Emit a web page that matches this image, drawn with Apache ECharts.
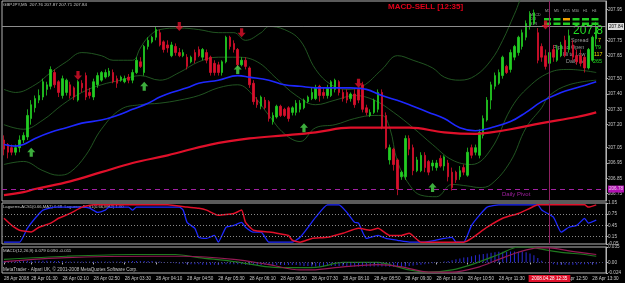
<!DOCTYPE html>
<html>
<head>
<meta charset="utf-8">
<script src="https://cdn.jsdelivr.net/npm/echarts@6.0.0/dist/echarts.min.js"></script>
<style>
  html, body { margin: 0; padding: 0; background: #000; }
  #chart { width: 625px; height: 283px; }
</style>
</head>
<body>
<div id="chart"></div>
<script>
// GBPJPY M5 bars, [open, close, low, high]
const candles = [
  [207.10,207.04,207.00,207.13],[207.07,207.02,206.98,207.08],[207.05,207.02,207.00,207.07],[207.02,207.05,207.00,207.07],
  [207.05,207.10,207.02,207.13],[207.10,207.13,207.08,207.15],[207.12,207.26,207.10,207.30],[207.24,207.33,207.20,207.36],
  [207.31,207.37,207.28,207.39],[207.36,207.39,207.34,207.43],[207.38,207.48,207.36,207.50],[207.43,207.46,207.39,207.48],
  [207.45,207.56,207.43,207.58],[207.54,207.46,207.44,207.56],[207.48,207.41,207.38,207.49],[207.39,207.50,207.37,207.52],
  [207.41,207.49,207.39,207.50],[207.46,207.39,207.37,207.48],[207.44,207.38,207.36,207.45],[207.36,207.48,207.35,207.49],
  [207.47,207.44,207.41,207.49],[207.52,207.38,207.36,207.54],[207.41,207.39,207.37,207.44],[207.38,207.48,207.36,207.50],
  [207.46,207.52,207.44,207.54],[207.49,207.54,207.48,207.55],[207.51,207.54,207.50,207.56],[207.52,207.55,207.51,207.57],
  [207.54,207.48,207.47,207.56],[207.50,207.47,207.44,207.52],[207.49,207.51,207.48,207.52],[207.48,207.50,207.47,207.52],
  [207.51,207.49,207.47,207.53],[207.49,207.54,207.47,207.56],[207.54,207.62,207.53,207.64],[207.61,207.58,207.57,207.64],
  [207.54,207.71,207.52,207.72],[207.71,207.75,207.69,207.77],[207.74,207.77,207.73,207.78],[207.77,207.82,207.75,207.84],
  [207.80,207.72,207.71,207.82],[207.74,207.69,207.67,207.75],[207.72,207.70,207.67,207.75],[207.65,207.72,207.64,207.74],
  [207.71,207.67,207.65,207.73],[207.67,207.65,207.64,207.70],[207.65,207.67,207.64,207.69],[207.64,207.58,207.56,207.66],
  [207.61,207.64,207.60,207.65],[207.67,207.62,207.60,207.69],[207.69,207.65,207.64,207.71],[207.64,207.69,207.62,207.70],
  [207.67,207.62,207.60,207.69],[207.64,207.54,207.52,207.65],[207.60,207.54,207.52,207.62],[207.59,207.54,207.52,207.61],
  [207.54,207.61,207.52,207.62],[207.61,207.77,207.60,207.78],[207.77,207.71,207.69,207.78],[207.73,207.69,207.67,207.75],
  [207.69,207.59,207.57,207.70],[207.59,207.62,207.58,207.64],[207.62,207.58,207.56,207.64],[207.57,207.46,207.44,207.58],
  [207.47,207.35,207.33,207.49],[207.36,207.33,207.31,207.38],[207.32,207.38,207.30,207.39],[207.36,207.31,207.30,207.38],
  [207.35,207.24,207.22,207.36],[207.22,207.26,207.20,207.28],[207.25,207.32,207.24,207.33],[207.32,207.26,207.25,207.33],
  [207.30,207.26,207.25,207.31],[207.31,207.24,207.22,207.32],[207.28,207.31,207.26,207.32],[207.28,207.34,207.26,207.36],
  [207.30,207.34,207.28,207.36],[207.31,207.36,207.30,207.37],[207.35,207.38,207.34,207.39],[207.37,207.41,207.36,207.44],
  [207.37,207.44,207.36,207.46],[207.45,207.39,207.35,207.46],[207.41,207.39,207.37,207.44],[207.39,207.44,207.37,207.46],
  [207.39,207.48,207.38,207.49],[207.43,207.49,207.41,207.50],[207.48,207.41,207.39,207.49],[207.41,207.37,207.35,207.43],
  [207.41,207.36,207.34,207.43],[207.37,207.40,207.35,207.41],[207.40,207.33,207.31,207.43],[207.43,207.36,207.34,207.44],
  [207.46,207.30,207.28,207.48],[207.31,207.28,207.26,207.33],[207.26,207.28,207.25,207.30],[207.28,207.36,207.27,207.37],
  [207.30,207.41,207.28,207.43],[207.41,207.18,207.17,207.43],[207.26,207.05,207.04,207.28],[206.97,207.05,206.94,207.07],
  [207.04,206.94,206.90,207.05],[206.97,206.78,206.74,206.98],[206.86,206.89,206.84,206.90],[206.86,207.11,206.84,207.13],
  [207.11,207.04,207.00,207.13],[207.05,206.90,206.87,207.07],[206.90,206.97,206.89,206.99],[206.90,207.00,206.89,207.02],
  [207.00,206.92,206.89,207.02],[206.96,206.89,206.87,206.97],[206.93,206.95,206.90,206.97],[206.92,206.95,206.90,206.97],
  [206.98,206.93,206.92,207.00],[206.93,206.99,206.90,207.00],[206.95,206.86,206.83,206.97],[206.89,206.79,206.77,206.92],
  [206.89,206.84,206.82,206.90],[206.86,206.90,206.84,206.93],[206.92,206.89,206.87,206.94],[206.87,207.02,206.86,207.05],
  [207.05,207.00,206.98,207.07],[207.02,207.05,207.00,207.07],[207.00,207.15,206.98,207.17],[207.13,207.24,207.11,207.26],
  [207.23,207.36,207.22,207.38],[207.36,207.46,207.30,207.48],[207.45,207.52,207.43,207.54],[207.47,207.54,207.46,207.56],
  [207.52,207.64,207.50,207.65],[207.58,207.54,207.53,207.59],[207.56,207.67,207.54,207.69],[207.64,207.71,207.62,207.72],
  [207.67,207.77,207.65,207.78],[207.71,207.80,207.69,207.82],[207.77,207.86,207.75,207.88],[207.84,207.92,207.82,207.94],
  [207.86,207.93,207.85,207.95],[207.80,207.62,207.60,207.83],[207.71,207.64,207.61,207.73],[207.65,207.58,207.56,207.69],
  [207.60,207.67,207.58,207.69],[207.69,207.64,207.61,207.72],[207.62,207.69,207.61,207.72],[207.65,207.72,207.64,207.74],
  [207.75,207.65,207.64,207.78],[207.69,207.78,207.67,207.82],[207.72,207.64,207.62,207.75],[207.65,207.61,207.59,207.69],
  [207.65,207.60,207.58,207.69],[207.64,207.57,207.54,207.65],[207.57,207.69,207.56,207.70],[207.62,207.77,207.61,207.78],
  [207.76,207.84,207.71,207.87]
];

// indicator lines, [bar index, value]
const blueMA = [[0,207.07],[3,207.06],[5,207.07],[8,207.11],[12,207.15],[16,207.18],[20,207.21],[25,207.23],[29,207.26],
  [33,207.30],[37,207.34],[40,207.38],[43,207.41],[47,207.44],[50,207.47],[55,207.49],[60,207.52],[63,207.51],[68,207.49],
  [72,207.46],[76,207.45],[80,207.44],[85,207.44],[89,207.44],[93,207.43],[97,207.39],[102,207.35],[105,207.32],[109,207.28],
  [113,207.24],[117,207.18],[121,207.16],[125,207.18],[130,207.22],[134,207.28],[138,207.35],[143,207.41],[147,207.44],[152,207.48]];
const redMA = [[0,206.74],[5,206.76],[8,206.78],[17,206.83],[25,206.89],[33,206.95],[42,207.00],[53,207.07],[63,207.11],
  [72,207.13],[80,207.15],[89,207.18],[97,207.18],[104,207.18],[113,207.15],[121,207.14],[125,207.15],[130,207.17],
  [138,207.21],[147,207.25],[152,207.28]];
const bandUpper = [[0,207.43],[3,207.41],[8,207.46],[12,207.54],[16,207.61],[20,207.67],[25,207.65],[28,207.62],[33,207.62],
  [35,207.70],[37,207.77],[40,207.82],[45,207.83],[50,207.82],[55,207.80],[59,207.80],[62,207.75],[66,207.80],[68,207.84],
  [72,207.82],[76,207.75],[80,207.56],[84,207.46],[88,207.43],[92,207.45],[97,207.56],[101,207.65],[105,207.62],[110,207.57],
  [113,207.51],[117,207.49],[121,207.52],[125,207.62],[128,207.75],[131,207.92],[134,208.08],[138,208.14],[145,208.08],[152,208.05]];
const bandMiddle = [[0,207.20],[5,207.17],[10,207.23],[15,207.33],[20,207.41],[25,207.46],[30,207.49],[35,207.52],[40,207.49],
  [45,207.54],[50,207.61],[55,207.64],[60,207.64],[65,207.61],[70,207.50],[75,207.39],[80,207.33],[85,207.36],[90,207.39],
  [95,207.36],[100,207.28],[105,207.18],[110,207.07],[115,206.97],[120,206.94],[125,207.04],[130,207.30],[134,207.43],
  [140,207.54],[145,207.56],[152,207.54]];
const bandLower = [[0,206.94],[5,206.96],[10,206.90],[14,206.87],[17,206.89],[21,207.00],[25,207.17],[30,207.30],[35,207.33],
  [40,207.34],[45,207.36],[50,207.39],[55,207.44],[60,207.46],[64,207.39],[68,207.26],[72,207.14],[76,207.09],[80,207.18],
  [85,207.20],[90,207.24],[95,207.26],[97,207.26],[99,207.18],[101,206.96],[104,206.81],[107,206.74],[111,206.73],[115,206.81],
  [119,206.80],[122,206.79],[125,206.81],[130,206.96],[134,207.18],[138,207.31],[140,207.39],[145,207.46],[152,207.49]];
const upArrows = [[7,207.02],[36,207.45],[60,207.56],[77,207.18],[110,206.79]];
const downArrows = [[19,207.52],[45,207.84],[61,207.80],[91,207.47],[139,207.85]];

const lagBlue = [[0,0],[4,0],[6,0.37],[8,0.64],[10,0.86],[13,0.94],[20,0.94],[22,0.91],[24,0.80],[26,0.86],[27,0.94],
  [32,0.94],[33,0.86],[34,0.94],[45,0.94],[46,0.86],[47,0.53],[49,0.37],[50,0.13],[52,0.10],[54,0.18],[55,0],[57,0.40],
  [59,0.45],[61,0.53],[62,0.40],[64,0.27],[66,0.27],[68,0],[74,0],[76,0.13],[79,0.53],[80,0.67],[83,1.0],[86,1.0],[88,0.80],
  [90,0.53],[91,0.51],[93,0.10],[96,0.18],[98,0.10],[101,0.05],[104,0],[108,0],[113,0.10],[115,0.13],[116,0],[118,0],
  [120,0.45],[122,0.72],[124,0.94],[127,1.0],[137,1.0],[138,0.86],[141,0.67],[143,0.27],[145,0.40],[147,0.45],[149,0.64],
  [150,0.51],[152,0.59]];
const lagRed = [[0,0.64],[2,0.45],[4,0.32],[7,0.27],[9,0.40],[12,0.51],[14,0.64],[17,0.77],[20,0.94],[23,1.0],[42,1.0],
  [47,0.94],[50,0.91],[52,0.86],[55,0.72],[59,0.77],[61,0.86],[62,0.53],[64,0.32],[68,0.27],[70,0.24],[73,0.18],[74,0.05],
  [76,0],[79,0.10],[83,0.13],[87,0.24],[91,0.37],[94,0.32],[96,0.37],[99,0.18],[102,0.18],[104,0.24],[107,0],[118,0],
  [120,0.10],[124,0.40],[128,0.64],[132,0.77],[135,0.91],[137,1.0],[149,1.0],[150,0.94],[152,1.0]];
const lagLevels = [0.75, 0.45, 0.15];

const macdHist = [
  0.002,0.002,0.003,0.003,0.003,0.004,0.004,0.004,0.004,0.004,
  0.004,0.004,0.003,0.003,0.003,0.003,0.002,0.002,0.002,0.002,
  0.002,0.002,0.002,0.002,0.002,0.002,0.002,0.002,0.002,0.002,
  0.002,0.002,0.003,0.003,0.003,0.003,0.003,0.003,0.003,0.002,
  0.002,0.001,0.001,0.001,-0.002,-0.003,-0.003,-0.004,-0.004,-0.004,
  -0.004,-0.005,-0.005,-0.005,-0.005,-0.005,-0.004,-0.004,-0.004,-0.004,
  -0.004,-0.004,-0.005,-0.005,-0.006,-0.006,-0.006,-0.006,-0.006,-0.006,
  -0.006,-0.006,-0.006,-0.006,-0.006,-0.006,-0.007,-0.008,-0.008,-0.009,
  -0.009,-0.009,-0.009,-0.008,-0.008,-0.008,-0.008,-0.008,-0.008,-0.009,
  -0.009,-0.009,-0.009,-0.009,-0.009,-0.009,-0.009,-0.009,-0.009,-0.010,
  -0.010,-0.010,-0.010,-0.009,-0.008,-0.007,-0.006,-0.005,-0.004,-0.003,
  -0.002,-0.001,0.001,0.002,0.003,0.005,0.007,0.009,0.011,0.012,
  0.014,0.016,0.018,0.019,0.020,0.022,0.023,0.024,0.024,0.024,
  0.025,0.025,0.024,0.024,0.023,0.020,0.016,0.010,0.004,-0.002,
  -0.004,-0.004,-0.005,-0.005,-0.005,-0.005,-0.005,-0.005,-0.004,-0.004,
  -0.004,-0.004,-0.004
];
const macdGreen = [[0,0.007],[16,0.014],[33,0.018],[44,0.018],[50,0.011],[59,0.002],[68,-0.010],[76,-0.012],[81,-0.010],
  [87,0.0],[96,0.0],[101,-0.010],[104,-0.017],[109,-0.022],[115,-0.017],[120,-0.005],[127,0.018],[132,0.035],[135,0.035],
  [138,0.030],[143,0.023],[149,0.018],[152,0.014]];
const macdMaroon = [[0,0.002],[16,0.011],[38,0.014],[46,0.014],[59,0.007],[68,-0.005],[76,-0.017],[79,-0.017],[87,-0.010],
  [96,-0.005],[102,-0.010],[109,-0.022],[115,-0.022],[122,-0.010],[127,0.007],[132,0.023],[137,0.033],[140,0.033],
  [145,0.026],[152,0.018]];

const mainTicks = [207.95, 207.75, 207.65, 207.50, 207.40, 207.30, 207.20, 207.05, 206.95, 206.85, 206.75];
const lagTicks = [1.05, 0.75, 0.45, 0.15, -0.05];
const macdTicks = [0.035, 0, -0.024];
const lastPrice = 207.84;
const dailyPivot = 206.78;
const crossTime = '12:35';

// 5 minute bars from 00:55, plus chart shift slots
const times = [];
for (let i = 0; i < 155; i++) {
  const m = 55 + i * 5;
  times.push(String(Math.floor(m / 60)).padStart(2, '0') + ':' + String(m % 60).padStart(2, '0'));
}

const FONT = 'Liberation Sans';
const TXT = '#c8c8c8';
const labelIdx = (i) => i === 0 || (i >= 7 && (i - 7) % 8 === 0);

const chart = echarts.init(document.getElementById('chart'));

const gridBase = { left: 2, right: 19, show: true, borderColor: '#b4b4b4', borderWidth: 1, backgroundColor: 'transparent' };
const hiddenX = (gi) => ({
  type: 'category', gridIndex: gi, data: times, boundaryGap: true,
  axisLine: { show: false }, axisTick: { show: false }, axisLabel: { show: false }, splitLine: { show: false }
});
const rightY = (gi, min, max, ticks, fmt) => ({
  type: 'value', gridIndex: gi, position: 'right', min: min, max: max, scale: true,
  axisLine: { show: true, lineStyle: { color: '#b4b4b4' } },
  axisTick: { show: true, length: 2, customValues: ticks, lineStyle: { color: '#b4b4b4' } },
  axisLabel: { customValues: ticks, formatter: fmt, color: TXT, fontSize: 4.6, fontFamily: FONT, margin: 2 },
  splitLine: { show: false }
});
const lineS = (name, data, xi, yi, color, width, smooth, z) => ({
  name: name, type: 'line', xAxisIndex: xi, yAxisIndex: yi, data: data, symbol: 'none', smooth: smooth,
  lineStyle: { color: color, width: width }, z: z, silent: true
});

const option = {
  backgroundColor: '#000000',
  animation: false,
  textStyle: { fontFamily: FONT },
  grid: [
    Object.assign({ top: 1, height: 200 }, gridBase),
    Object.assign({ top: 203, height: 41 }, gridBase),
    Object.assign({ top: 247, height: 26 }, gridBase)
  ],
  xAxis: [
    hiddenX(0),
    hiddenX(1),
    {
      type: 'category', gridIndex: 2, data: times, boundaryGap: true,
      axisLine: { show: false },
      axisTick: { show: true, interval: labelIdx, alignWithLabel: true, length: 2, lineStyle: { color: '#b4b4b4' } },
      axisLabel: {
        interval: labelIdx, color: TXT, fontSize: 4.6, fontFamily: FONT, align: 'left', margin: 3,
        formatter: (v, i) => (i === 0 ? '28 Apr 2008' : '28 Apr ' + v)
      },
      splitLine: { show: false }
    }
  ],
  yAxis: [
    rightY(0, 206.702, 208.0065, mainTicks, (v) => v.toFixed(2)),
    rightY(1, -0.05, 1.05, lagTicks, (v) => v.toFixed(2)),
    rightY(2, -0.024, 0.035, macdTicks, (v) => (v === 0 ? '0.00' : String(v)))
  ],
  series: [
    lineS('Upper band', bandUpper, 0, 0, '#2a6a2a', 0.8, 0.4, 1),
    lineS('Middle band', bandMiddle, 0, 0, '#2a6a2a', 0.8, 0.4, 1),
    lineS('Lower band', bandLower, 0, 0, '#2a6a2a', 0.8, 0.4, 1),
    {
      name: 'GBPJPY', type: 'candlestick', xAxisIndex: 0, yAxisIndex: 0, data: candles, barWidth: 2, z: 3, silent: true,
      itemStyle: { color: '#22cc22', color0: '#d8102c', borderColor: '#22cc22', borderColor0: '#d8102c', borderWidth: 0.8 },
      markLine: {
        symbol: 'none', silent: true, animation: false,
        data: [
          { yAxis: lastPrice, lineStyle: { color: '#8c8c8c', type: 'solid', width: 1 },
            label: { show: true, position: 'end', distance: 2, formatter: lastPrice.toFixed(2), color: '#000',
              backgroundColor: '#dcdcdc', fontSize: 4.6, fontFamily: FONT, padding: [1, 1] } },
          { yAxis: dailyPivot, lineStyle: { color: '#a020a0', type: [5, 4], width: 1 },
            label: { show: true, position: 'end', distance: 2, formatter: dailyPivot.toFixed(2), color: '#f0d0f0',
              backgroundColor: '#b010b0', fontSize: 4.6, fontFamily: FONT, padding: [1, 1] } },
          { xAxis: crossTime, lineStyle: { color: '#8c2060', type: 'solid', width: 1 }, label: { show: false } }
        ]
      }
    },
    lineS('MA blue', blueMA, 0, 0, '#1e28ff', 1.6, 0.4, 4),
    lineS('MA red', redMA, 0, 0, '#e0102a', 2.2, 0.4, 4),
    {
      name: 'Buy', type: 'scatter', xAxisIndex: 0, yAxisIndex: 0, data: upArrows, z: 5, silent: true,
      symbol: 'path://M5,0 L10,5 L7,5 L7,10 L3,10 L3,5 L0,5 Z', symbolSize: [8, 9],
      itemStyle: { color: '#4cd84c' }
    },
    {
      name: 'Sell', type: 'scatter', xAxisIndex: 0, yAxisIndex: 0, data: downArrows, z: 5, silent: true,
      symbol: 'path://M3,0 L7,0 L7,5 L10,5 L5,10 L0,5 L3,5 Z', symbolSize: [8, 9],
      itemStyle: { color: '#e0102a' }
    },
    Object.assign(lineS('Laguerre blue', lagBlue, 1, 1, '#1e28ff', 1.3, 0.15, 3), {
      markLine: {
        symbol: 'none', silent: true, animation: false, label: { show: false },
        data: lagLevels.map((v) => ({ yAxis: v, lineStyle: { color: '#8a8a8a', type: [1, 2], width: 1 } }))
          .concat([{ xAxis: crossTime, lineStyle: { color: '#8c2060', type: 'solid', width: 1 } }])
      }
    }),
    lineS('Laguerre red', lagRed, 1, 1, '#e0102a', 1.5, 0.15, 4),
    {
      name: 'MACD hist', type: 'bar', xAxisIndex: 2, yAxisIndex: 2, data: macdHist, barWidth: 1, z: 2, silent: true,
      itemStyle: { color: '#2a2ad8' },
      markLine: {
        symbol: 'none', silent: true, animation: false,
        data: [
          { yAxis: 0, lineStyle: { color: '#505070', type: [1, 2], width: 1 }, label: { show: false } },
          { xAxis: crossTime, lineStyle: { color: '#8c2060', type: 'solid', width: 1 },
            label: { show: true, position: 'start', distance: 2, formatter: '2008.04.28 ' + crossTime, color: '#ffffff',
              backgroundColor: '#e0102a', fontSize: 4.6, fontFamily: FONT, padding: [1, 3] } }
        ]
      }
    },
    lineS('MACD signal', macdGreen, 2, 2, '#1f7a1f', 1.2, 0.3, 3),
    lineS('MACD main', macdMaroon, 2, 2, '#951a55', 1.2, 0.3, 3)
  ],
  graphic: [
    { type: 'text', left: 3, top: 3, style: { text: 'GBPJPY,M5  207.76 207.87 207.71 207.84', fill: TXT, font: '4.4px ' + FONT } },
    { type: 'text', left: 388, top: 3, style: { text: 'MACD-SELL [12:35]', fill: '#e0001a', font: 'bold 8px ' + FONT } },
    { type: 'text', left: 502, top: 191, style: { text: 'Daily Pivot', fill: '#a020a0', font: '6px ' + FONT } },
    { type: 'text', left: 3, top: 205, style: { text: 'Laguerre-ACS1(0.66,MA2) 0.68  Laguerre-ACS1(0.66,MA2) 1.00', fill: TXT, font: '4.2px ' + FONT } },
    { type: 'text', left: 3, top: 249, style: { text: 'MACD(12,26,9) 0.079 0.090 -0.011', fill: TXT, font: '4.4px ' + FONT } },
    { type: 'text', left: 3, top: 267, style: { text: 'MetaTrader - Alpari UK, \u00a9 2001-2008 MetaQuotes Software Corp.', fill: TXT, font: '4.6px ' + FONT } },
    // multi-timeframe box
    { type: 'group', left: 530, top: 9, children: [
      { type: 'text', x: 0, y: 4, style: { text: 'MACD\nCCI\nSTR', fill: '#a0a0a0', font: '3.6px ' + FONT, lineHeight: 4.2 } },
      { type: 'text', x: 15, y: 0, style: { text: 'M1', fill: '#a0a0a0', font: '3.6px ' + FONT } },
      { type: 'text', x: 24, y: 0, style: { text: 'M5', fill: '#a0a0a0', font: '3.6px ' + FONT } },
      { type: 'text', x: 33, y: 0, style: { text: 'M15', fill: '#a0a0a0', font: '3.6px ' + FONT } },
      { type: 'text', x: 42, y: 0, style: { text: 'M30', fill: '#a0a0a0', font: '3.6px ' + FONT } },
      { type: 'text', x: 53, y: 0, style: { text: 'H1', fill: '#a0a0a0', font: '3.6px ' + FONT } },
      { type: 'text', x: 62, y: 0, style: { text: 'H4', fill: '#a0a0a0', font: '3.6px ' + FONT } },
      { type: 'rect', shape: { x: 14, y: 9, width: 7, height: 2.5 }, style: { fill: '#22cc22' } },
      { type: 'rect', shape: { x: 23.5, y: 9, width: 7, height: 2.5 }, style: { fill: '#22cc22' } },
      { type: 'rect', shape: { x: 33, y: 9, width: 7, height: 2.5 }, style: { fill: '#f0a000' } },
      { type: 'rect', shape: { x: 42.5, y: 9, width: 7, height: 2.5 }, style: { fill: '#22cc22' } },
      { type: 'rect', shape: { x: 52, y: 9, width: 7, height: 2.5 }, style: { fill: '#22cc22' } },
      { type: 'rect', shape: { x: 61.5, y: 9, width: 7, height: 2.5 }, style: { fill: '#22cc22' } },
      { type: 'rect', shape: { x: 14, y: 13.5, width: 7, height: 2.5 }, style: { fill: '#22cc22' } },
      { type: 'rect', shape: { x: 23.5, y: 13.5, width: 7, height: 2.5 }, style: { fill: '#22cc22' } },
      { type: 'rect', shape: { x: 33, y: 13.5, width: 7, height: 2.5 }, style: { fill: '#22cc22' } },
      { type: 'rect', shape: { x: 42.5, y: 13.5, width: 7, height: 2.5 }, style: { fill: '#22cc22' } },
      { type: 'rect', shape: { x: 52, y: 13.5, width: 7, height: 2.5 }, style: { fill: '#22cc22' } },
      { type: 'rect', shape: { x: 61.5, y: 13.5, width: 7, height: 2.5 }, style: { fill: '#22cc22' } }
    ] },
    { type: 'text', left: 573, top: 25, style: { text: '207.8', fill: '#22dd22', font: '12px ' + FONT } },
    { type: 'text', left: 571, top: 38, style: { text: 'Spread', fill: '#9a9a9a', font: '5.4px ' + FONT } },
    { type: 'text', left: 598, top: 38, style: { text: '7', fill: '#e8d800', font: '5.4px ' + FONT } },
    { type: 'text', left: 553, top: 45, style: { text: 'Pips to Open', fill: '#9a9a9a', font: '5.4px ' + FONT } },
    { type: 'text', left: 595, top: 45, style: { text: '79', fill: '#22dd22', font: '5.4px ' + FONT } },
    { type: 'text', left: 563, top: 52, style: { text: 'Hi to Low', fill: '#9a9a9a', font: '5.4px ' + FONT } },
    { type: 'text', left: 594, top: 52, style: { text: '117', fill: '#e8d800', font: '5.4px ' + FONT } },
    { type: 'text', left: 566, top: 59, style: { text: 'Daily Av', fill: '#9a9a9a', font: '5.4px ' + FONT } },
    { type: 'text', left: 593, top: 59, style: { text: '265', fill: '#22dd22', font: '5.4px ' + FONT } }
  ]
};

chart.setOption(option);
</script>
</body>
</html>
